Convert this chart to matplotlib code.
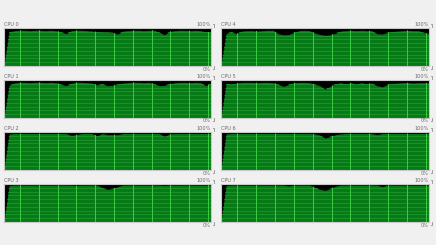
import numpy as np
import matplotlib.pyplot as plt

# CPU usage (%) sampled over the 60 s window, 41 samples each
cpu_names = ["CPU 0", "CPU 1", "CPU 2", "CPU 3", "CPU 4", "CPU 5", "CPU 6", "CPU 7"]

cpu0 = [0, 90, 93, 94, 94, 93, 94, 94, 93, 94, 93, 90, 85, 93, 94, 94, 93, 92, 90, 89,
        89, 88, 84, 92, 93, 94, 94, 93, 94, 94, 89, 82, 91, 93, 94, 94, 93, 94, 93, 90, 89]
cpu1 = [0, 86, 92, 94, 94, 93, 94, 94, 93, 94, 93, 89, 85, 91, 94, 94, 93, 92, 87, 90,
        85, 86, 89, 92, 93, 94, 94, 93, 94, 90, 85, 86, 90, 93, 94, 94, 93, 94, 93, 85, 91]
cpu2 = [0, 95, 96, 96, 96, 96, 96, 96, 96, 96, 96, 96, 96, 91, 93, 96, 96, 96, 90, 96,
        93, 93, 93, 96, 96, 96, 96, 96, 96, 96, 96, 88, 95, 96, 96, 96, 96, 96, 96, 96, 96]
cpu3 = [0, 96, 97, 97, 97, 97, 97, 97, 97, 97, 97, 97, 97, 97, 96, 97, 97, 97, 97, 90,
        86, 88, 93, 97, 97, 97, 97, 97, 97, 97, 97, 96, 97, 97, 97, 97, 97, 97, 97, 97, 97]
cpu4 = [0, 86, 90, 85, 92, 93, 93, 92, 93, 94, 94, 85, 82, 83, 88, 93, 94, 93, 87, 83,
        81, 82, 86, 92, 93, 94, 93, 94, 93, 93, 85, 84, 88, 91, 92, 93, 94, 93, 93, 88, 85]
cpu5 = [0, 91, 89, 92, 94, 94, 94, 93, 94, 94, 93, 89, 83, 88, 93, 94, 94, 93, 89, 85,
        76, 83, 90, 93, 90, 93, 89, 93, 90, 92, 85, 82, 88, 91, 92, 93, 93, 92, 93, 93, 92]
cpu6 = [0, 95, 96, 96, 96, 96, 96, 96, 96, 96, 96, 96, 96, 96, 96, 96, 96, 96, 95, 92,
        84, 88, 93, 95, 96, 96, 96, 96, 96, 96, 93, 96, 96, 96, 96, 96, 96, 96, 96, 96, 96]
cpu7 = [0, 96, 97, 97, 97, 97, 97, 97, 97, 97, 97, 97, 97, 95, 97, 97, 97, 97, 92, 86,
        83, 88, 94, 97, 97, 97, 97, 97, 97, 97, 97, 93, 97, 97, 97, 97, 97, 97, 97, 97, 97]

series = [cpu0, cpu1, cpu2, cpu3, cpu4, cpu5, cpu6, cpu7]
t = np.linspace(0, 60, len(cpu0))

W, H = 436, 245
fig = plt.figure(figsize=(W / 100, H / 100), dpi=100, facecolor="#f0f0f0")

col_x = [4, 221]
col_w = [207, 208]
row_y = [28, 80, 132, 184]
box_h = 38

bg_green = "#067a14"
hline_green = "#1f9530"
vline_green = "#3ccc44"
label_col = "#6a6a6a"

for k, (name, vals) in enumerate(zip(cpu_names, series)):
    col = k // 4
    row = k % 4
    x0, w = col_x[col], col_w[col]
    y0 = row_y[row]
    ax = fig.add_axes([x0 / W, 1 - (y0 + box_h) / H, w / W, box_h / H])
    ax.set_facecolor("black")
    ax.set_xlim(0, 60)
    ax.set_ylim(0, 100)
    poly = ax.fill_between(t, 0, vals, color=bg_green, lw=0, zorder=1)
    clip = poly.get_paths()[0]
    # horizontal grid, 10 rows (only inside the filled area)
    for yy in np.arange(10, 100, 10):
        ln = ax.axhline(yy, color=hline_green, lw=0.6, zorder=2)
        ln.set_clip_path(clip, ax.transData)
    # vertical grid
    for xx in np.arange(60 * 16 / 207, 60, 60 * 18.8 / 207):
        ln = ax.axvline(xx, color=vline_green, lw=0.7, zorder=2)
        ln.set_clip_path(clip, ax.transData)
    ax.set_xticks([])
    ax.set_yticks([])
    for s in ax.spines.values():
        s.set_color("#c8c8c8")
        s.set_linewidth(0.8)

    # labels
    fig.text(x0 / W, 1 - (y0 - 4) / H, name, fontsize=3.6, color=label_col, va="center", ha="left")
    fig.text((x0 + w) / W, 1 - (y0 - 4) / H, "100%", fontsize=3.6, color=label_col, va="center", ha="right")
    fig.text((x0 + w) / W, 1 - (y0 + box_h + 3) / H, "0%", fontsize=3.6, color=label_col, va="center", ha="right")
    bx = (x0 + w + 3) / W
    fig.add_artist(plt.Line2D([bx - 1.5 / W, bx, bx], [1 - (y0 - 4) / H, 1 - (y0 - 4) / H, 1 - (y0 - 1) / H],
                              color="#909090", lw=0.6))
    fig.add_artist(plt.Line2D([bx - 1.5 / W, bx, bx], [1 - (y0 + box_h + 3) / H, 1 - (y0 + box_h + 3) / H,
                                                       1 - (y0 + box_h) / H], color="#909090", lw=0.6))

fig.savefig("out.png", dpi=100, facecolor=fig.get_facecolor())
